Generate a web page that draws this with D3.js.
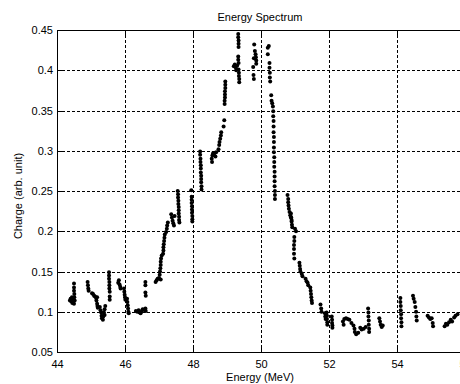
<!DOCTYPE html>
<html>
<head>
<meta charset="utf-8">
<script src="https://cdn.jsdelivr.net/npm/d3@7"></script>
<style>
  body { margin: 0; background: #fff; }
  text { font-family: "Liberation Sans", Arial, sans-serif; font-size: 11px; fill: #000; }
  .grid line { stroke: #000; stroke-width: 1; stroke-dasharray: 3,2; shape-rendering: crispEdges; }
</style>
</head>
<body>
<div id="chart"></div>
<script>
// energy (MeV) and charge (arb. unit), point by point
const energy = [
  44.40, 44.42, 44.44, 44.38, 44.45, 44.48, 44.50, 44.50, 44.50, 44.51, 44.51, 44.52, 44.50,
  44.90, 44.91, 44.92, 44.93,
  45.03, 45.06, 45.09, 45.12, 45.15, 45.18, 45.16, 45.18, 45.19, 45.20,
  45.26, 45.28, 45.30, 45.31, 45.32, 45.35, 45.36, 45.38, 45.40, 45.42, 45.40,
  45.53, 45.53, 45.53, 45.54, 45.54, 45.54, 45.55, 45.55, 45.55,
  45.80, 45.82, 45.84, 45.86, 45.87,
  45.97, 45.98, 45.99, 46.00, 46.01,
  46.06, 46.07, 46.08, 46.09, 46.10, 46.11,
  46.32, 46.36, 46.40, 46.43, 46.46, 46.50, 46.52,
  46.60, 46.60, 46.60, 46.61, 46.60, 46.61,
  46.90, 46.93, 46.96,
  47.00, 47.02, 47.03, 47.04, 47.05, 47.05, 47.06, 47.08, 47.05,
  47.12, 47.13, 47.13, 47.14, 47.15, 47.16, 47.17,
  47.21, 47.23, 47.24, 47.26,
  47.36, 47.38, 47.40, 47.42, 47.44, 47.46,
  47.55, 47.56, 47.56, 47.57, 47.57, 47.58, 47.58, 47.58, 47.59, 47.59, 47.60,
  47.95, 47.96, 47.96, 47.96, 47.97, 47.97, 47.97, 47.98, 47.98, 47.98,
  48.21, 48.21, 48.22, 48.22, 48.23, 48.23, 48.23, 48.24, 48.24, 48.24, 48.25, 48.25,
  48.55, 48.57, 48.59, 48.62, 48.66, 48.68, 48.56,
  48.75, 48.77, 48.78, 48.80, 48.82, 48.83, 48.90, 48.92,
  48.93, 48.93, 48.94, 48.94, 48.94, 48.95, 48.95, 48.95,
  49.33, 49.33, 49.34, 49.34, 49.34,
  49.20, 49.23, 49.26, 49.30, 49.33, 49.33, 49.34, 49.34, 49.35, 49.35, 49.36, 49.36, 49.27,
  49.80, 49.82, 49.79, 49.84, 49.85, 49.86, 49.86, 49.77, 49.78, 49.79,
  50.20, 50.23, 50.20, 50.25, 50.25, 50.26, 50.26, 50.27, 50.30, 50.31, 50.33,
  50.35, 50.36, 50.36, 50.37, 50.37, 50.37, 50.38, 50.38, 50.38, 50.38,
  50.39, 50.39, 50.39, 50.40, 50.40, 50.40, 50.40, 50.41, 50.41, 50.41,
  50.78, 50.80, 50.80, 50.81, 50.82, 50.84, 50.86, 50.88, 50.90,
  50.88, 50.89, 50.90, 50.91, 50.92, 51.00, 51.03,
  50.98, 50.98, 50.97, 50.97, 50.97, 50.98,
  51.13, 51.14, 51.15, 51.16, 51.20, 51.22,
  51.31, 51.34, 51.37, 51.39,
  51.45, 51.46, 51.47, 51.48, 51.49, 51.50,
  51.75, 51.77, 51.78, 51.88, 51.89, 51.90,
  51.93, 51.94, 51.94, 51.95, 51.95, 52.08, 52.09, 52.09, 52.10, 52.10,
  52.41, 52.45, 52.50, 52.55, 52.60, 52.66, 52.43,
  52.72, 52.75, 52.76, 52.80, 52.86,
  52.92, 52.96, 53.02, 53.08,
  53.15, 53.16, 53.16, 53.17, 53.17, 53.18, 53.18,
  53.48, 53.50, 53.52, 53.55, 53.58,
  54.10, 54.10, 54.11, 54.11, 54.12, 54.12, 54.13, 54.13,
  54.47, 54.49, 54.52, 54.54, 54.56, 54.57, 54.58,
  54.90, 54.94, 54.98, 55.02, 55.05, 55.06,
  55.40, 55.44, 55.48, 55.53, 55.58, 55.62, 55.68, 55.72, 55.78
];
const charge = [
  0.116, 0.113, 0.118, 0.114, 0.111, 0.115, 0.135, 0.130, 0.126, 0.122, 0.118, 0.114, 0.110,
  0.137, 0.133, 0.129, 0.126,
  0.123, 0.122, 0.120, 0.119, 0.117, 0.118, 0.114, 0.110, 0.107, 0.105,
  0.106, 0.102, 0.099, 0.095, 0.092, 0.090, 0.094, 0.099, 0.103, 0.107, 0.096,
  0.149, 0.145, 0.141, 0.137, 0.133, 0.129, 0.125, 0.119, 0.115,
  0.136, 0.139, 0.134, 0.131, 0.129,
  0.129, 0.125, 0.121, 0.118, 0.115,
  0.116, 0.112, 0.108, 0.104, 0.100, 0.098,
  0.101, 0.100, 0.102, 0.099, 0.098, 0.101, 0.103,
  0.137, 0.133, 0.124, 0.120, 0.104, 0.101,
  0.137, 0.139, 0.141,
  0.142, 0.146, 0.150, 0.154, 0.158, 0.162, 0.166, 0.170, 0.140,
  0.172, 0.176, 0.180, 0.184, 0.188, 0.192, 0.196,
  0.199, 0.203, 0.207, 0.211,
  0.221, 0.217, 0.213, 0.210, 0.207, 0.219,
  0.250, 0.246, 0.242, 0.238, 0.234, 0.230, 0.226, 0.222, 0.218, 0.214, 0.211,
  0.251, 0.243, 0.239, 0.235, 0.231, 0.227, 0.223, 0.219, 0.215, 0.212,
  0.299, 0.295, 0.290, 0.286, 0.282, 0.278, 0.273, 0.269, 0.265, 0.261, 0.256, 0.252,
  0.290, 0.294, 0.297, 0.296, 0.293, 0.298, 0.286,
  0.302, 0.307, 0.311, 0.315, 0.319, 0.323, 0.330, 0.338,
  0.358, 0.362, 0.366, 0.370, 0.374, 0.378, 0.382, 0.386,
  0.445, 0.441, 0.437, 0.433, 0.429,
  0.405, 0.407, 0.403, 0.406, 0.417, 0.413, 0.409, 0.401, 0.397, 0.393, 0.389, 0.385, 0.400,
  0.432, 0.424, 0.415, 0.420, 0.416, 0.412, 0.408, 0.404, 0.394, 0.389,
  0.428, 0.430, 0.420, 0.409, 0.403, 0.397, 0.391, 0.386, 0.369, 0.362, 0.359,
  0.355, 0.349, 0.343, 0.337, 0.330, 0.323, 0.317, 0.311, 0.304, 0.298,
  0.292, 0.286, 0.280, 0.274, 0.268, 0.262, 0.256, 0.250, 0.245, 0.240,
  0.245, 0.240, 0.236, 0.232, 0.228, 0.224, 0.220, 0.217, 0.214,
  0.222, 0.217, 0.212, 0.208, 0.205, 0.203, 0.200,
  0.193, 0.188, 0.183, 0.178, 0.172, 0.166,
  0.161, 0.157, 0.153, 0.150, 0.147, 0.144,
  0.141, 0.138, 0.136, 0.133,
  0.130, 0.126, 0.122, 0.118, 0.114, 0.111,
  0.109, 0.104, 0.100, 0.098, 0.094, 0.091,
  0.099, 0.095, 0.091, 0.087, 0.084, 0.094, 0.090, 0.086, 0.083, 0.080,
  0.088, 0.091, 0.092, 0.091, 0.090, 0.086, 0.084,
  0.083, 0.079, 0.075, 0.072, 0.074,
  0.080, 0.078, 0.079, 0.081,
  0.104, 0.099, 0.094, 0.089, 0.084, 0.079, 0.075,
  0.092, 0.088, 0.084, 0.081, 0.083,
  0.117, 0.112, 0.107, 0.102, 0.097, 0.092, 0.087, 0.082,
  0.120, 0.116, 0.112, 0.106, 0.100, 0.094, 0.089,
  0.095, 0.093, 0.091, 0.092, 0.086, 0.082,
  0.082, 0.085, 0.084, 0.087, 0.090, 0.088, 0.093, 0.095, 0.097
];
const xTicks = [44, 46, 48, 50, 52, 54, 56];
const yTicks = [0.05, 0.1, 0.15, 0.2, 0.25, 0.3, 0.35, 0.4, 0.45];

const margin = { top: 30, right: -5, bottom: 32, left: 57 };
const width = 460 - margin.left - margin.right;
const height = 384 - margin.top - margin.bottom;

const svg = d3.select('#chart').append('svg')
  .attr('width', 460)
  .attr('height', 384);

const g = svg.append('g')
  .attr('transform', 'translate(' + margin.left + ',' + margin.top + ')');

const xScale = d3.scaleLinear().domain([44, 56]).range([0, width]);
const yScale = d3.scaleLinear().domain([0.05, 0.45]).range([height, 0]);

// dashed grid
g.append('g').attr('class', 'grid')
  .selectAll('line.v')
  .data(xTicks.slice(1, -1))
  .enter().append('line')
  .attr('x1', d => Math.round(xScale(d)) + 0.5)
  .attr('x2', d => Math.round(xScale(d)) + 0.5)
  .attr('y1', 0)
  .attr('y2', height);

g.append('g').attr('class', 'grid')
  .selectAll('line.h')
  .data(yTicks.slice(1, -1))
  .enter().append('line')
  .attr('x1', 0)
  .attr('x2', width)
  .attr('y1', d => Math.round(yScale(d)) + 0.5)
  .attr('y2', d => Math.round(yScale(d)) + 0.5);

// axes, ticks pointing inward like matlab
const xAxis = d3.axisBottom(xScale).tickValues(xTicks).tickSizeInner(-5).tickSizeOuter(0).tickPadding(8);
const yAxis = d3.axisLeft(yScale).tickValues(yTicks).tickSizeInner(-5).tickSizeOuter(0).tickPadding(4)
  .tickFormat(d => String(+d.toFixed(2)));
const xTop = d3.axisTop(xScale).tickValues(xTicks).tickSizeInner(-5).tickSizeOuter(0).tickFormat('');

const xAxisGroup = g.append('g')
  .attr('transform', 'translate(0,' + height + ')')
  .call(xAxis);
const yAxisGroup = g.append('g').call(yAxis);
const topGroup = g.append('g').call(xTop);

[xAxisGroup, yAxisGroup, topGroup].forEach(a => {
  a.select('.domain').attr('stroke', '#000').attr('shape-rendering', 'crispEdges');
  a.selectAll('line').attr('stroke', '#000').attr('shape-rendering', 'crispEdges');
  a.selectAll('text').attr('font-family', null).attr('font-size', null).attr('fill', '#000');
});

// points
g.append('g')
  .selectAll('circle')
  .data(energy.map((e, i) => [e, charge[i]]))
  .enter().append('circle')
  .attr('cx', d => xScale(d[0]))
  .attr('cy', d => yScale(d[1]))
  .attr('r', 2)
  .attr('fill', '#000');

// labels
svg.append('text')
  .attr('x', 260).attr('y', 21)
  .attr('text-anchor', 'middle')
  .text('Energy Spectrum');

svg.append('text')
  .attr('x', 260).attr('y', 381)
  .attr('text-anchor', 'middle')
  .text('Energy (MeV)');

svg.append('text')
  .attr('transform', 'translate(22,196) rotate(-90)')
  .attr('text-anchor', 'middle')
  .text('Charge (arb. unit)');
</script>
</body>
</html>
